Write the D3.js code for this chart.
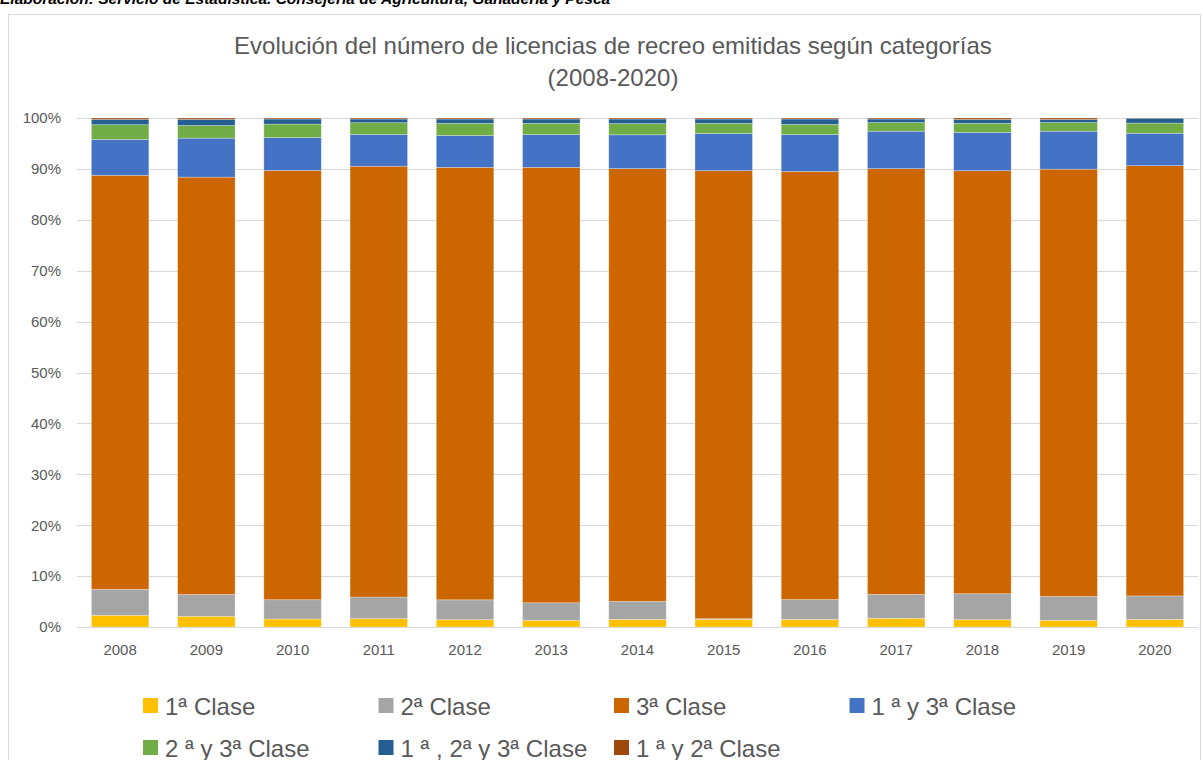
<!DOCTYPE html>
<html lang="es">
<head>
  <meta charset="UTF-8">
  <title>Licencias de recreo por categorías</title>
  <script src="https://d3js.org/d3.v7.min.js"></script>
  <style>
    body { margin: 0; background: #fff; }
    svg { display: block; font-family: "Liberation Sans", Arial, sans-serif; }
  </style>
</head>
<body>
  <svg width="1203" height="760"></svg>

  <script>
  // values, % of licences per year
  const years = ["2008","2009","2010","2011","2012","2013","2014","2015","2016","2017","2018","2019","2020"];
  const series = ["1ª Clase","2ª Clase","3ª Clase","1 ª y 3ª Clase","2 ª y 3ª Clase","1 ª , 2ª y 3ª Clase","1 ª y 2ª Clase"];
  const colors = ["#FFC000","#A5A5A5","#CC6600","#4472C4","#70AD47","#255E91","#9E480E"];

  const clase1   = [2.30, 2.10, 1.57, 1.63, 1.44, 1.31, 1.50, 1.50, 1.50, 1.70, 1.44, 1.31, 1.50];
  const clase2   = [5.10, 4.30, 3.80, 4.25, 3.90, 3.45, 3.55, 0.13, 3.90, 4.70, 5.10, 4.70, 4.60];
  const clase3   = [81.35, 82.00, 84.40, 84.65, 84.95, 85.55, 85.05, 88.05, 84.10, 83.60, 83.10, 83.90, 84.50];
  const clase13  = [7.05, 7.65, 6.45, 6.25, 6.25, 6.45, 6.65, 7.30, 7.25, 7.35, 7.50, 7.45, 6.35];
  const clase23  = [2.90, 2.50, 2.65, 2.30, 2.40, 2.20, 2.20, 2.00, 2.00, 1.70, 1.80, 1.70, 2.00];
  const clase123 = [1.05, 1.20, 1.00, 0.72, 0.85, 0.85, 0.90, 0.85, 1.05, 0.70, 0.75, 0.60, 0.95];
  const clase12  = [0.26, 0.26, 0.20, 0.20, 0.20, 0.20, 0.20, 0.20, 0.20, 0.20, 0.30, 0.30, 0.05];

  const yTicks = [0, 0.1, 0.2, 0.3, 0.4, 0.5, 0.6, 0.7, 0.8, 0.9, 1];

  const cols = [clase1, clase2, clase3, clase13, clase23, clase123, clase12];
  const table = years.map((yr, i) => {
    const row = { year: yr };
    series.forEach((s, k) => row[s] = cols[k][i]);
    return row;
  });

  const svg = d3.select("svg");
  const textColor = "#595959";

  // top note, mostly cut off by the page edge (as in the source picture)
  svg.append("text")
    .attr("x", 0).attr("y", 3.5)
    .attr("font-size", 15.5).attr("font-weight", "bold").attr("font-style", "italic")
    .attr("fill", "#000")
    .text("Elaboración: Servicio de Estadística. Consejería de Agricultura, Ganadería y Pesca");

  // chart frame
  svg.append("rect")
    .attr("x", 8.5).attr("y", 14.5)
    .attr("width", 1192).attr("height", 760)
    .attr("fill", "#fff").attr("stroke", "#D9D9D9");

  const title = svg.append("text")
    .attr("text-anchor", "middle")
    .attr("font-size", 24).attr("fill", textColor);
  title.append("tspan").attr("x", 613).attr("y", 54)
    .text("Evolución del número de licencias de recreo emitidas según categorías");
  title.append("tspan").attr("x", 613).attr("y", 86).text("(2008-2020)");

  const plotLeft = 77, plotRight = 1198, plotTop = 118, plotBottom = 627;

  const x = d3.scaleBand().domain(years).range([plotLeft, plotRight]).paddingInner(1/3).paddingOuter(1/6);
  const y = d3.scaleLinear().domain([0, 1]).range([plotBottom, plotTop]);

  // gridlines
  svg.append("g")
    .selectAll("line")
    .data(yTicks)
    .join("line")
    .attr("x1", plotLeft).attr("x2", plotRight)
    .attr("y1", d => Math.round(y(d)) + 0.5).attr("y2", d => Math.round(y(d)) + 0.5)
    .attr("stroke", "#D9D9D9").attr("stroke-width", 1);

  const yAxis = svg.append("g")
    .attr("transform", `translate(${plotLeft - 7},0)`)
    .call(d3.axisLeft(y).tickValues(yTicks).tickFormat(d3.format(".0%")).tickSize(0).tickPadding(9));
  yAxis.select(".domain").remove();
  yAxis.selectAll("text").attr("font-size", 15).attr("fill", textColor)
    .attr("font-family", "'Liberation Sans', Arial, sans-serif");

  const stack = d3.stack().keys(series).offset(d3.stackOffsetExpand);
  const layers = stack(table);

  svg.append("g")
    .selectAll("g")
    .data(layers)
    .join("g")
    .attr("fill", (d, i) => colors[i])
    .selectAll("rect")
    .data(d => d)
    .join("rect")
    .attr("x", d => x(d.data.year))
    .attr("width", x.bandwidth())
    .attr("y", d => y(d[1]))
    .attr("height", d => y(d[0]) - y(d[1]))
    .attr("stroke", "#fff").attr("stroke-opacity", 0.35).attr("stroke-width", 0.8);

  // baseline
  svg.append("line")
    .attr("x1", plotLeft).attr("x2", plotRight)
    .attr("y1", y(0) + 0.5).attr("y2", y(0) + 0.5)
    .attr("stroke", "#D9D9D9");

  const xAxis = svg.append("g")
    .attr("transform", `translate(0,${plotBottom})`)
    .call(d3.axisBottom(x).tickSize(0).tickPadding(17));
  xAxis.select(".domain").remove();
  xAxis.selectAll("text").attr("font-size", 15).attr("fill", textColor)
    .attr("font-family", "'Liberation Sans', Arial, sans-serif");

  // legend
  const legend = svg.append("g")
    .selectAll("g")
    .data(series)
    .join("g")
    .attr("transform", (d, i) => `translate(${143 + (i % 4) * 235.5},${i < 4 ? 706 : 748})`);
  legend.append("rect")
    .attr("x", 0).attr("y", -8).attr("width", 15).attr("height", 15)
    .attr("fill", (d, i) => colors[i]);
  legend.append("text")
    .attr("x", 22).attr("y", 8.5)
    .attr("font-size", 24).attr("fill", textColor)
    .text(d => d);
  </script>
</body>
</html>
